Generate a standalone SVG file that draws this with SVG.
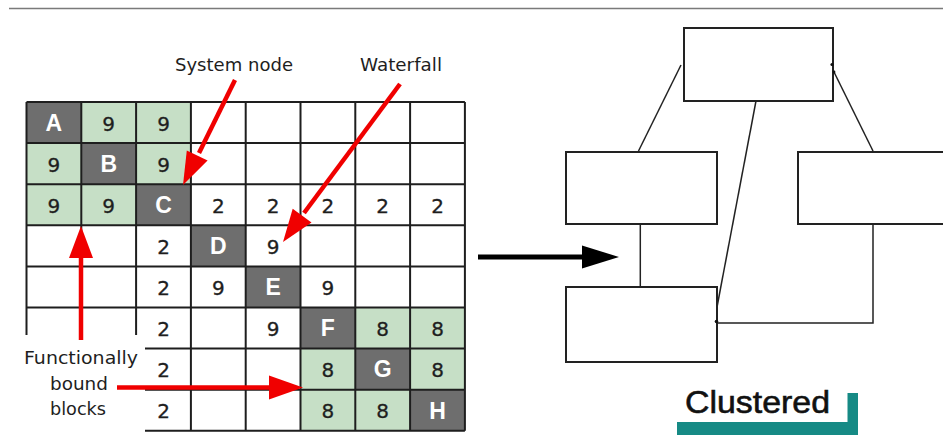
<svg xmlns="http://www.w3.org/2000/svg" width="943" height="438" viewBox="0 0 943 438">
<style>
.dk{fill:#6e6e6e}
.gr{fill:#c6dfc6}
.gl{stroke:#1e1e1e;stroke-width:2;fill:none}
.lt{font-family:"Liberation Sans",Arial,sans-serif;font-weight:bold;font-size:23px;fill:#ffffff;text-anchor:middle}
.nm{font-family:"DejaVu Sans",Verdana,sans-serif;font-size:20px;fill:#1e1e1e;stroke:#1e1e1e;stroke-width:0.3;text-anchor:middle}
.lb{font-family:"DejaVu Sans",Verdana,sans-serif;font-size:17px;fill:#1e1e1e}
.red{stroke:#f00000;stroke-width:4.5;fill:none}
.rh{fill:#f00000}
.bx{fill:#fff;stroke:#222;stroke-width:2}
.cn{stroke:#222;stroke-width:1.5;fill:none}
</style>
<rect width="943" height="438" fill="#fff"/>
<line x1="9" y1="8.5" x2="943" y2="8.5" stroke="#7a7a7a" stroke-width="1.5"/>

<g id="matrix">
<g id="fills">
<rect class="gr" x="81.3" y="102" width="54.8" height="41.1"/>
<rect class="gr" x="136.1" y="102" width="54.8" height="41.1"/>
<rect class="gr" x="26.5" y="143.1" width="54.8" height="41.1"/>
<rect class="gr" x="136.1" y="143.1" width="54.8" height="41.1"/>
<rect class="gr" x="26.5" y="184.2" width="54.8" height="41.1"/>
<rect class="gr" x="81.3" y="184.2" width="54.8" height="41.1"/>
<rect class="gr" x="355.3" y="307.5" width="54.8" height="41.1"/>
<rect class="gr" x="410.1" y="307.5" width="54.8" height="41.1"/>
<rect class="gr" x="300.5" y="348.6" width="54.8" height="41.1"/>
<rect class="gr" x="410.1" y="348.6" width="54.8" height="41.1"/>
<rect class="gr" x="300.5" y="389.7" width="54.8" height="41.1"/>
<rect class="gr" x="355.3" y="389.7" width="54.8" height="41.1"/>
</g>
<g id="node-A"><rect class="dk" x="26.5" y="102" width="54.8" height="41.1"/><text class="lt" x="53.9" y="130.8">A</text></g>
<g id="node-B"><rect class="dk" x="81.3" y="143.1" width="54.8" height="41.1"/><text class="lt" x="108.7" y="171.9">B</text></g>
<g id="node-C"><rect class="dk" x="136.1" y="184.2" width="54.8" height="41.1"/><text class="lt" x="163.5" y="213">C</text></g>
<g id="node-D"><rect class="dk" x="190.9" y="225.3" width="54.8" height="41.1"/><text class="lt" x="218.3" y="254.1">D</text></g>
<g id="node-E"><rect class="dk" x="245.7" y="266.4" width="54.8" height="41.1"/><text class="lt" x="273.1" y="295.2">E</text></g>
<g id="node-F"><rect class="dk" x="300.5" y="307.5" width="54.8" height="41.1"/><text class="lt" x="327.9" y="336.3">F</text></g>
<g id="node-G"><rect class="dk" x="355.3" y="348.6" width="54.8" height="41.1"/><text class="lt" x="382.7" y="377.4">G</text></g>
<g id="node-H"><rect class="dk" x="410.1" y="389.7" width="54.8" height="41.1"/><text class="lt" x="437.5" y="418.5">H</text></g>

<g id="gridlines" class="gl">
<path d="M26.5,102H464.9M26.5,143.1H464.9M26.5,184.2H464.9M26.5,225.3H464.9M26.5,266.4H464.9M26.5,307.5H464.9M145,348.6H464.9M145,389.7H464.9M145,430.8H464.9"/>
<path d="M26.5,102V335M81.3,102V335M136.1,102V335M190.9,102V430.8M245.7,102V430.8M300.5,102V430.8M355.3,102V430.8M410.1,102V430.8M464.9,102V430.8"/>
</g>

<g id="values">
<text class="nm" x="108.7" y="130.5">9</text>
<text class="nm" x="163.5" y="130.5">9</text>
<text class="nm" x="53.9" y="171.6">9</text>
<text class="nm" x="163.5" y="171.6">9</text>
<text class="nm" x="53.9" y="212.7">9</text>
<text class="nm" x="108.7" y="212.7">9</text>
<text class="nm" x="218.3" y="212.7">2</text>
<text class="nm" x="273.1" y="212.7">2</text>
<text class="nm" x="327.9" y="212.7">2</text>
<text class="nm" x="382.7" y="212.7">2</text>
<text class="nm" x="437.5" y="212.7">2</text>
<text class="nm" x="163.5" y="253.8">2</text>
<text class="nm" x="273.1" y="253.8">9</text>
<text class="nm" x="163.5" y="295">2</text>
<text class="nm" x="218.3" y="295">9</text>
<text class="nm" x="327.9" y="295">9</text>
<text class="nm" x="163.5" y="336">2</text>
<text class="nm" x="273.1" y="336">9</text>
<text class="nm" x="382.7" y="336">8</text>
<text class="nm" x="437.5" y="336">8</text>
<text class="nm" x="163.5" y="377.2">2</text>
<text class="nm" x="327.9" y="377.2">8</text>
<text class="nm" x="437.5" y="377.2">8</text>
<text class="nm" x="163.5" y="418.3">2</text>
<text class="nm" x="327.9" y="418.3">8</text>
<text class="nm" x="382.7" y="418.3">8</text>
</g>
</g>

<g id="labels">
<text class="lb" x="175" y="71" textLength="118" lengthAdjust="spacingAndGlyphs">System node</text>
<text class="lb" x="360" y="71" textLength="82" lengthAdjust="spacingAndGlyphs">Waterfall</text>
<text class="lb" x="24" y="364" textLength="114" lengthAdjust="spacingAndGlyphs">Functionally</text>
<text class="lb" x="50" y="390" textLength="58" lengthAdjust="spacingAndGlyphs">bound</text>
<text class="lb" x="50" y="415" textLength="56" lengthAdjust="spacingAndGlyphs">blocks</text>
</g>

<g id="annotation-arrows">
<line class="red" x1="235" y1="80" x2="199" y2="153"/>
<polygon class="rh" points="183,185 207.6,160.5 186.8,150.5"/>
<line class="red" x1="400" y1="84" x2="304" y2="213"/>
<polygon class="rh" points="283,242 311.5,222.5 292.7,208.8"/>
<line class="red" x1="81" y1="340" x2="81" y2="255"/>
<polygon class="rh" points="81,226 69,258 93,258"/>
<line class="red" x1="117" y1="387.5" x2="272" y2="387.5"/>
<polygon class="rh" points="303,387.5 269,375.5 269,399.5"/>
</g>

<g id="transform-arrow">
<line x1="478" y1="257" x2="586" y2="257" stroke="#000" stroke-width="5"/>
<polygon points="619,257 582,245.5 582,268.5" fill="#000"/>
</g>

<g id="box-top"><rect class="bx" x="684" y="28" width="149" height="73"/></g>
<g id="box-left"><rect class="bx" x="566" y="152" width="151" height="72"/></g>
<g id="box-right"><rect class="bx" x="798" y="152" width="150" height="72"/></g>
<g id="box-bottom"><rect class="bx" x="566" y="287" width="151" height="75"/></g>

<g id="connectors">
<line class="cn" x1="681" y1="65" x2="638.5" y2="151"/>
<line class="cn" x1="756" y1="101" x2="717" y2="307"/>
<line class="cn" x1="833.5" y1="71" x2="873" y2="151"/>
<line class="cn" x1="640.3" y1="224" x2="640.3" y2="287"/>
<polyline class="cn" points="873,224 873,323 716,323"/>
<circle cx="832" cy="64.5" r="1.6" fill="#111"/>
<circle cx="834" cy="72" r="1.4" fill="#111"/>
<circle cx="716.5" cy="321.5" r="1.8" fill="#111"/>
</g>

<g id="title">
<text x="685" y="413" font-family="'Liberation Sans',Arial,sans-serif" font-size="32" fill="#111" stroke="#111" stroke-width="0.6" textLength="145" lengthAdjust="spacingAndGlyphs">Clustered</text>
<path d="M677,422H858V435H677Z M847.5,393H858V435H847.5Z" fill="#168a85"/>
</g>
</svg>
